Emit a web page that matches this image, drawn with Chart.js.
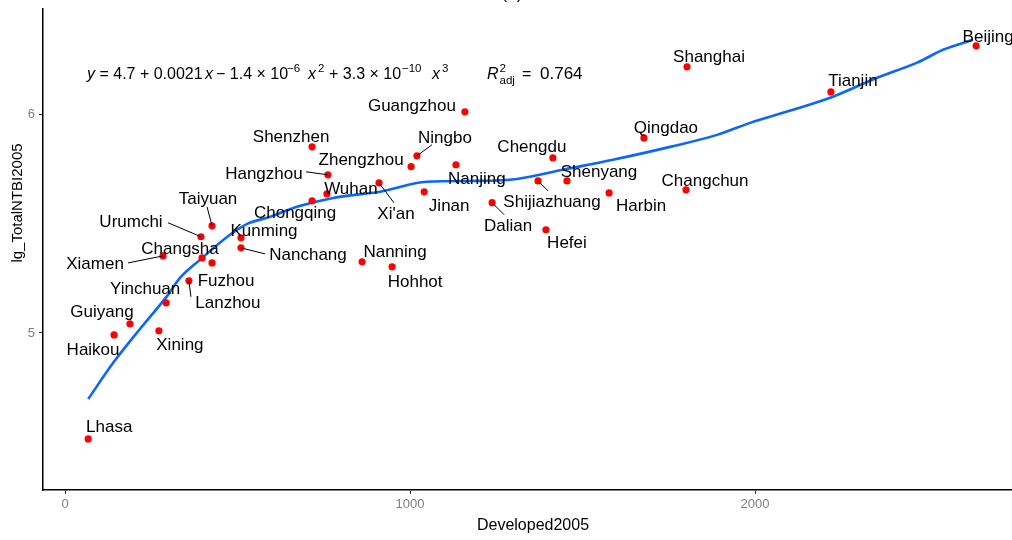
<!DOCTYPE html>
<html>
<head>
<meta charset="utf-8">
<script src="https://cdn.jsdelivr.net/npm/chart.js@4"></script>
<style>
  html, body { margin: 0; padding: 0; background: #ffffff; }
  #wrap { width: 1012px; height: 540px; position: relative; }
</style>
</head>
<body>
<div id="wrap"><canvas id="c" width="1012" height="540"></canvas></div>
<script>
// ---------------- data ----------------
const cities = ["Beijing","Shanghai","Tianjin","Guangzhou","Qingdao","Shenzhen","Ningbo","Chengdu","Nanjing","Zhengzhou","Hangzhou","Shijiazhuang","Shenyang","Xi'an","Changchun","Wuhan","Jinan","Harbin","Chongqing","Dalian","Taiyuan","Hefei","Urumchi","Kunming","Nanchang","Xiamen","Changsha","Fuzhou","Nanning","Hohhot","Lanzhou","Yinchuan","Guiyang","Xining","Haikou","Lhasa"];
const developed2005 = [2641,1803,2220,1159,1678,716,1020,1414,1133,1003,762,1371,1455,910,1800,759,1041,1577,716,1238,426,1394,394,510,510,284,397,426,861,948,359,293,188,272,142,67];
const lgTotalNTBI2005 = [6.316,6.220,6.105,6.014,5.894,5.853,5.812,5.803,5.771,5.762,5.725,5.697,5.697,5.688,5.656,5.638,5.647,5.642,5.606,5.597,5.491,5.473,5.441,5.436,5.390,5.353,5.344,5.321,5.326,5.303,5.239,5.138,5.042,5.010,4.991,4.514];

// smooth fitted curve
const fitX = [67,139,217,296,333,391,478,528,594,672,777,913,1049,1203,1310,1443,1588,1754,1890,1986,2110,2226,2354,2470,2545,2632];
const fitY = [4.697,4.862,5.018,5.170,5.252,5.335,5.450,5.500,5.532,5.578,5.619,5.647,5.693,5.697,5.706,5.748,5.794,5.853,5.908,5.963,6.023,6.083,6.170,6.239,6.298,6.344];

const xTicks = [0, 1000, 2000];
const yTicks = [5, 6];

// ---------------- label placement (pixel offsets from point) ----------------
const labelPlacement = {
  "Beijing":[12,-9], "Shanghai":[22,-9], "Tianjin":[22,-11], "Qingdao":[22,-10],
  "Changchun":[19,-9], "Harbin":[32,13], "Shenyang":[32,-9], "Chengdu":[-21,-10],
  "Shijiazhuang":[14,21,10,10], "Dalian":[16,24,12,12], "Hefei":[21,14], "Jinan":[25,15],
  "Nanjing":[21,15], "Ningbo":[28,-17,15,-11], "Guangzhou":[-53,-5], "Zhengzhou":[-50,-6],
  "Xi'an":[17,31,15,20], "Wuhan":[24,-4], "Hangzhou":[-64,0,-22,-3], "Shenzhen":[-21,-10],
  "Chongqing":[-17,13], "Taiyuan":[-4,-27,-5,-19], "Urumchi":[-70,-14,-33,-14], "Kunming":[23,-7],
  "Nanchang":[67,7,24,6], "Changsha":[-22,-9], "Xiamen":[-68,8,-35,7], "Fuzhou":[14,18],
  "Lanzhou":[39,23,2,16], "Yinchuan":[-21,-14], "Guiyang":[-28,-11], "Haikou":[-21,15],
  "Xining":[21,15], "Nanning":[33,-10], "Hohhot":[23,15], "Lhasa":[21,-12]
};

const FONT = "'Liberation Sans', Arial, sans-serif";

const labelPlugin = {
  id: 'cityLabels',
  afterDatasetsDraw(chart) {
    const ctx = chart.ctx, xs = chart.scales.x, ys = chart.scales.y;
    ctx.save();
    ctx.font = "17px " + FONT;
    ctx.textAlign = 'center';
    ctx.textBaseline = 'middle';
    cities.forEach((c, i) => {
      const px = xs.getPixelForValue(developed2005[i]);
      const py = ys.getPixelForValue(lgTotalNTBI2005[i]);
      const p = labelPlacement[c];
      if (p.length > 2) {
        ctx.strokeStyle = '#000';
        ctx.lineWidth = 1;
        ctx.beginPath();
        ctx.moveTo(px, py);
        ctx.lineTo(px + p[2], py + p[3]);
        ctx.stroke();
      }
      ctx.fillStyle = '#000';
      ctx.fillText(c, px + p[0], py + p[1]);
    });
    ctx.restore();
  }
};

const annotPlugin = {
  id: 'annot',
  afterDraw(chart) {
    const ctx = chart.ctx;
    ctx.save();
    ctx.fillStyle = '#000';
    ctx.textBaseline = 'alphabetic';
    ctx.textAlign = 'left';
    // equation
    const base = 79;
    const N = "16px " + FONT, I = "italic 16px " + FONT, S = "11.5px " + FONT, B = "17px " + FONT;
    function seg(t, f, x, dy) { ctx.font = f; ctx.fillText(t, x, base + (dy||0)); return x + ctx.measureText(t).width; }
    let x = seg("y", I, 87);
    seg(" = 4.7 + 0.0021", N, x);
    seg("x", I, 205);
    seg("\u2212 1.4 \u00d7 10", N, 216);
    seg("\u22126", S, 287, -7);
    seg("x", I, 308);
    seg("2", S, 318, -7);
    seg("+ 3.3 \u00d7 10", N, 329);
    seg("\u221210", S, 402, -7);
    seg("x", I, 432);
    seg("3", S, 442, -7);
    x = seg("R", I, 487);
    seg("2", S, x + 1, -7);
    seg("adj", S, x + 1, 5);
    seg("=", N, 522);
    seg("0.764", B, 540);
    // axis titles
    ctx.font = "16px " + FONT;
    ctx.textAlign = 'center';
    ctx.fillText("Developed2005", 533, 530);
    ctx.save();
    ctx.translate(22, 203);
    ctx.rotate(-Math.PI / 2);
    ctx.font = "15px " + FONT;
    ctx.fillText("lg_TotalNTBI2005", 0, 0);
    ctx.restore();
    // panel title (cut off at top)
    ctx.font = "17px " + FONT;
    ctx.fillText("(a)", 512, -1);
    ctx.restore();
  }
};

new Chart(document.getElementById('c'), {
  data: {
    datasets: [
      {
        type: 'scatter',
        data: developed2005.map((v, i) => ({ x: v, y: lgTotalNTBI2005[i] })),
        backgroundColor: '#ff0000',
        borderWidth: 0,
        pointRadius: 3.6,
        order: 0
      },
      {
        type: 'line',
        data: fitX.map((v, i) => ({ x: v, y: fitY[i] })),
        borderColor: '#0a66ff',
        borderWidth: 2.6,
        pointRadius: 0,
        fill: false,
        cubicInterpolationMode: 'monotone',
        order: 1
      }
    ]
  },
  options: {
    responsive: false,
    animation: false,
    layout: { autoPadding: false, padding: { top: 9, right: 0, left: 0, bottom: 0 } },
    plugins: { legend: { display: false }, tooltip: { enabled: false }, title: { display: false } },
    scales: {
      x: {
        type: 'linear',
        min: -64, max: 2745,
        afterBuildTicks: s => { s.ticks = xTicks.map(v => ({ value: v })); },
        afterFit: s => { s.height = 50; s.paddingLeft = 0; s.paddingRight = 0; },
        grid: { drawOnChartArea: false, drawTicks: true, tickLength: 4, color: '#333' },
        border: { display: true, color: '#000', width: 1.5 },
        ticks: { color: '#7f7f7f', font: { size: 13, family: FONT }, padding: 3, maxRotation: 0, callback: v => String(v) }
      },
      y: {
        type: 'linear',
        min: 4.28, max: 6.485,
        afterBuildTicks: s => { s.ticks = yTicks.map(v => ({ value: v })); },
        afterFit: s => { s.width = 43; s.paddingTop = 0; s.paddingBottom = 0; },
        grid: { drawOnChartArea: false, drawTicks: true, tickLength: 4, color: '#333' },
        border: { display: true, color: '#000', width: 1.5 },
        ticks: { color: '#7f7f7f', font: { size: 13, family: FONT }, padding: 4, callback: v => String(v) }
      }
    }
  },
  plugins: [labelPlugin, annotPlugin]
});
</script>
</body>
</html>
